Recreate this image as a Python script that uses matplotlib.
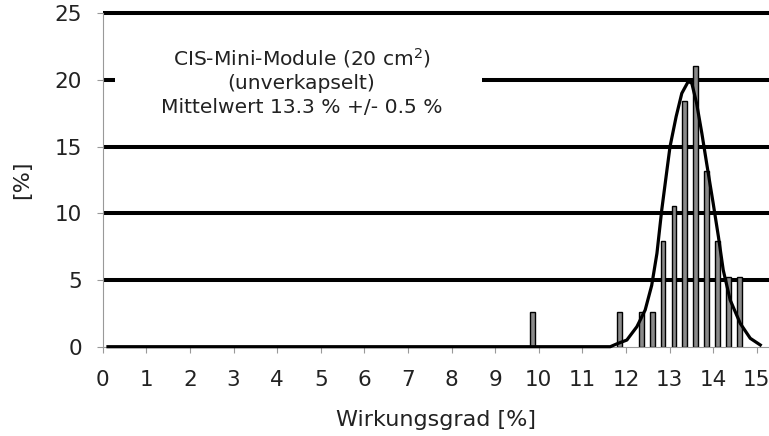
import matplotlib
matplotlib.use("Agg")
import matplotlib.pyplot as plt
from matplotlib.patches import Rectangle

# Histogram bars (bin centre in %, share of modules in %)
bin_centers = [9.85, 11.85, 12.35, 12.6, 12.85, 13.1, 13.35, 13.6, 13.85, 14.1, 14.35, 14.6]
shares = [2.63, 2.63, 2.63, 2.63, 7.89, 10.53, 18.42, 21.05, 13.16, 7.89, 5.26, 5.26]

# Fitted distribution curve
curve_x = [0.12, 11.64, 11.78, 12.02, 12.25, 12.44, 12.59, 12.71, 12.82, 12.94, 13.01, 13.15,
           13.28, 13.43, 13.51, 13.62, 13.74, 13.85, 14.0, 14.12, 14.23, 14.39, 14.62, 14.85, 15.08]
curve_y = [0.0, 0.0, 0.2, 0.5, 1.5, 2.75, 4.6, 7.0, 10.25, 13.26, 15.0, 17.25,
           19.0, 19.9, 19.75, 18.25, 16.0, 13.75, 10.75, 8.25, 5.75, 3.5, 1.75, 0.63, 0.13]

x_ticks = list(range(0, 16))
y_ticks = [0, 5, 10, 15, 20, 25]
annotation = "CIS-Mini-Module (20 cm$^2$)\n(unverkapselt)\nMittelwert 13.3 % +/- 0.5 %"

plt.rcParams['font.family'] = ['DejaVu Sans']
text_color = '#222222'
spine_color = '#999999'

fig = plt.figure(figsize=(7.69, 4.36), dpi=100)
ax = fig.add_axes([0.1336, 0.2048, 0.8664, 0.7647])
ax.set_xlim(0, 15.28)
ax.set_ylim(0, 25)

# horizontal gridlines
for yv in y_ticks[1:]:
    ax.axhline(yv, color='black', lw=2.9, zorder=1, solid_capstyle='butt', clip_on=False)

# white label box interrupting the 20% gridline
ax.add_patch(Rectangle((0.28, 16.3), 8.42, 7.4, facecolor='white', edgecolor='none', zorder=1.5))
ax.text(4.56, 19.9, annotation, ha='center', va='center', fontsize=14.6,
        color=text_color, linespacing=1.3, zorder=4)

ax.bar(bin_centers, shares, width=0.11, color='#8a8a8a', edgecolor='black',
       linewidth=1.0, zorder=2)
ax.plot(curve_x, curve_y, color='black', lw=2.3, zorder=3, solid_joinstyle='round',
        clip_on=False)

for s in ['top', 'right']:
    ax.spines[s].set_visible(False)
for s in ['left', 'bottom']:
    ax.spines[s].set_color(spine_color)
    ax.spines[s].set_linewidth(0.8)

ax.set_xticks(x_ticks)
ax.set_yticks(y_ticks)
ax.tick_params(axis='both', colors=spine_color, labelcolor=text_color, labelsize=15.5,
               length=4, width=0.8)
ax.tick_params(axis='x', pad=13)
ax.tick_params(axis='y', pad=11)

ax.set_xlabel('Wirkungsgrad [%]', fontsize=16, color=text_color, labelpad=14)
ax.set_ylabel('[%]', fontsize=16, color=text_color, labelpad=16)

fig.savefig('out.png', dpi=100)
